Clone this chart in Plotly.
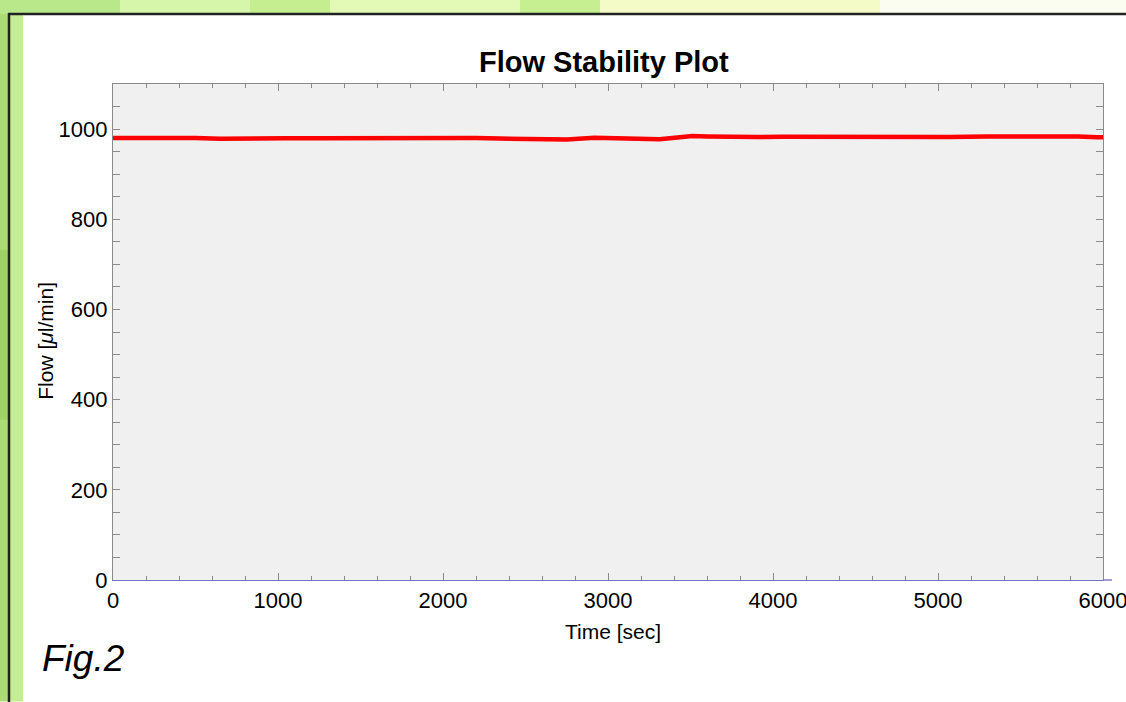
import plotly.graph_objects as go

# Data (time in sec, flow in µl/min)
time_sec = [0, 150, 345, 500, 648, 800, 890, 1050, 1253, 1450, 1650, 1870, 2070, 2200,
            2343, 2550, 2750, 2918, 3130, 3312, 3420, 3512, 3600, 3754, 3900, 4056,
            4250, 4462, 4700, 4900, 5067, 5300, 5500, 5745, 5850, 5963, 6000]
flow_ul_min = [980, 980.5, 982, 980.5, 978.5, 979.5, 980, 979.5, 979.5, 980, 980, 980.5, 980.5, 980,
               979, 978.5, 977, 981, 979.5, 977.5, 981.5, 984.5, 983.5, 982, 982.5, 983,
               982.5, 982.5, 983, 983, 982.5, 983.5, 983.5, 984.5, 983.5, 982, 982]

x_ticks = [0, 1000, 2000, 3000, 4000, 5000, 6000]
y_ticks = [0, 200, 400, 600, 800, 1000]

W, H = 1126, 702
L, R, T, B = 113, 1103, 84, 580.5


def px(x):
    return (x - L) / (R - L)


def py(y):
    return (B - y) / (B - T)


fig = go.Figure()
fig.add_trace(go.Scatter(x=time_sec, y=flow_ul_min, mode="lines",
                         line=dict(color="#ff0000", width=4.5), showlegend=False,
                         hoverinfo="x+y"))
# invisible companion trace so the mirrored top axis (x2) is drawn
fig.add_trace(go.Scatter(x=time_sec, y=flow_ul_min, mode="lines", xaxis="x2",
                         line=dict(color="rgba(0,0,0,0)", width=0), showlegend=False,
                         hoverinfo="skip"))

shapes = []


def rect(x0, y0, x1, y1, color):
    shapes.append(dict(type="rect", xref="paper", yref="paper", x0=px(x0), x1=px(x1),
                       y0=py(y1), y1=py(y0), fillcolor=color, line=dict(width=0),
                       layer="below"))


# decorative green background strips
rect(0, 0, 10, H, "#acdc74")
rect(0, 0, 120, 14, "#b9e88a")
rect(120, 0, 250, 14, "#d6f7aa")
rect(250, 0, 330, 14, "#c4ee90")
rect(330, 0, 520, 14, "#e3f9b6")
rect(520, 0, 600, 14, "#c6ef92")
rect(600, 0, 880, 14, "#f4fbc6")
rect(880, 0, W, 14, "#fbfdf0")
rect(10, 14, 23, H, "#c3ef92")
rect(0, 250, 10, 420, "#9fd266")
# black frame
shapes.append(dict(type="line", xref="paper", yref="paper", x0=px(9), x1=px(9),
                   y0=py(13), y1=py(H + 5), line=dict(color="#222222", width=2.5), layer="below"))
shapes.append(dict(type="line", xref="paper", yref="paper", x0=px(8), x1=px(W + 5),
                   y0=py(14), y1=py(14), line=dict(color="#222222", width=2.5), layer="below"))
# light-blue baseline continuing slightly past the right frame
shapes.append(dict(type="line", xref="paper", yref="paper", x0=1.0, x1=px(1112),
                   y0=0, y1=0, line=dict(color="#7373c6", width=1.4), layer="above"))

font = "Liberation Sans, Arial, Helvetica, sans-serif"

axis_common = dict(showgrid=False, zeroline=False, showline=True,
                   linewidth=1.2, ticks="inside", ticklen=7,
                   tickcolor="#8a8a8a", tickwidth=1.2, ticklabeloverflow="allow",
                   automargin=False, tickfont=dict(size=22), fixedrange=True)
minor_x = dict(dtick=200, ticks="inside", ticklen=4, tickcolor="#8a8a8a",
               tickwidth=1, showgrid=False)

fig.update_layout(
    width=W, height=H,
    margin=dict(l=L, r=W - R, t=T, b=H - B, pad=0, autoexpand=False),
    paper_bgcolor="white",
    plot_bgcolor="#f0f0f0",
    shapes=shapes,
    font=dict(family=font, color="black", size=19),
    xaxis=dict(range=[0, 6000], tickvals=x_ticks, ticktext=[str(v) for v in x_ticks],
               linecolor="#7373c6", mirror=False, minor=minor_x, **axis_common),
    xaxis2=dict(range=[0, 6000], tickvals=x_ticks, showticklabels=False,
                overlaying="x", side="top", linecolor="#8a8a8a", mirror=False,
                minor=minor_x, **axis_common),
    yaxis=dict(range=[0, 1100], tickvals=y_ticks, ticktext=[str(v) for v in y_ticks],
               linecolor="#8a8a8a", mirror="allticks",
               minor=dict(dtick=50, ticks="inside", ticklen=4, tickcolor="#8a8a8a",
                          tickwidth=1, showgrid=False),
               **axis_common),
    annotations=[
        dict(text="<b>Flow Stability Plot</b>", xref="paper", yref="paper",
             x=px(604), y=py(62), showarrow=False, font=dict(size=29, family=font),
             xanchor="center", yanchor="middle"),
        dict(text="Time [sec]", xref="paper", yref="paper", x=px(613), y=py(632),
             showarrow=False, font=dict(size=21, family=font),
             xanchor="center", yanchor="middle"),
        dict(text="Flow [<i>μ</i>l/min]", xref="paper", yref="paper", x=px(46), y=py(341),
             showarrow=False, textangle=-90, font=dict(size=21, family=font),
             xanchor="center", yanchor="middle"),
        dict(text="<i>Fig.2</i>", xref="paper", yref="paper", x=px(40), y=py(659),
             showarrow=False, font=dict(size=37, family=font),
             xanchor="left", yanchor="middle"),
    ],
)

fig.write_html("out.html", config={"displayModeBar": False},
               post_script="document.body.style.margin='0';document.body.style.overflow='hidden';")
